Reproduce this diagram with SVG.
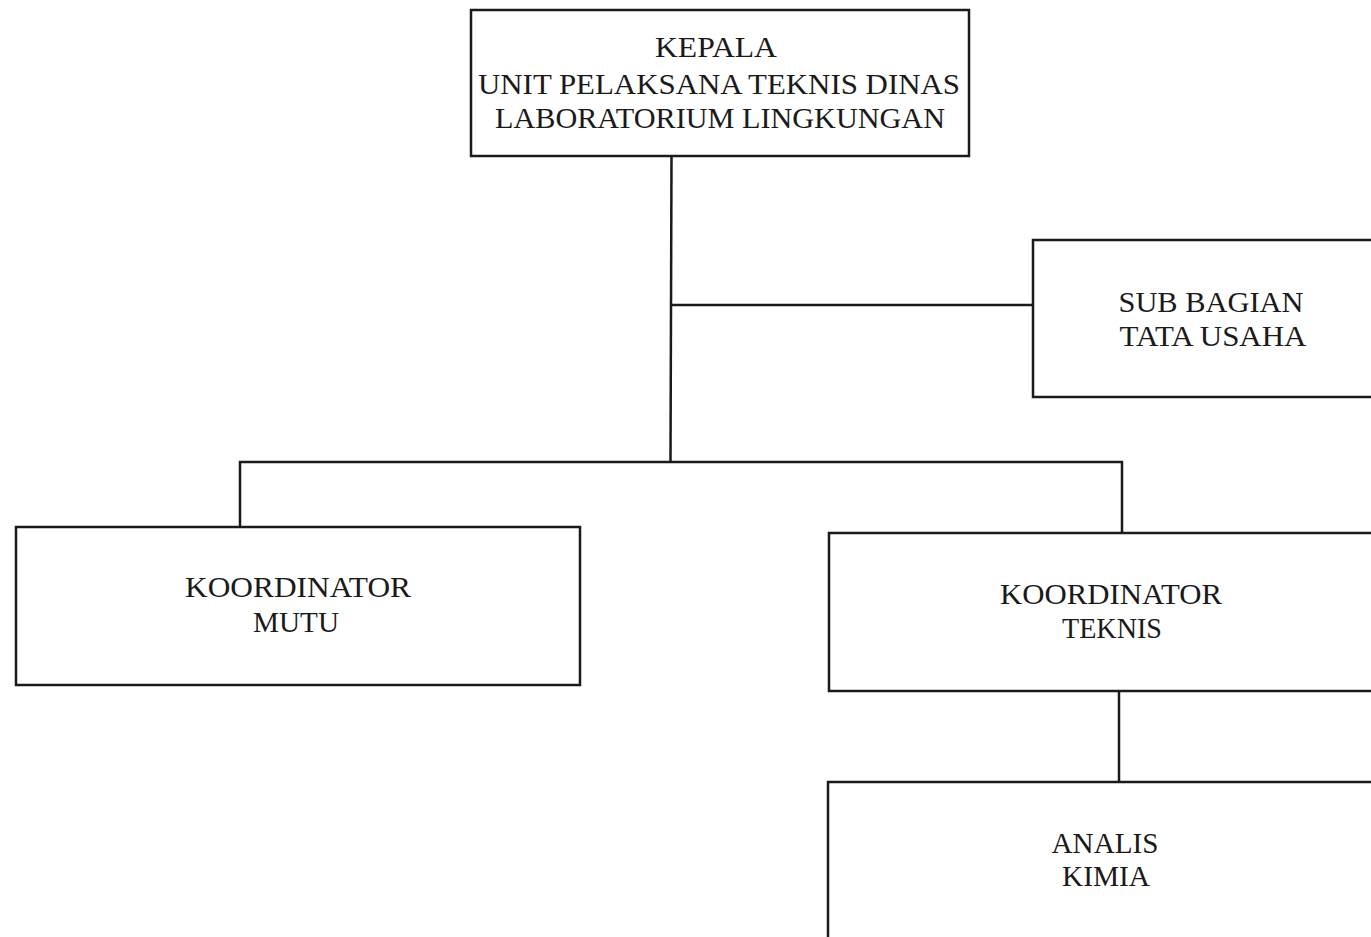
<svg xmlns="http://www.w3.org/2000/svg" width="1371" height="937" viewBox="0 0 1371 937">
<style>
.box{fill:none;stroke:#1a1a1a;stroke-width:2.5}
.ln{fill:none;stroke:#1a1a1a;stroke-width:2.5}
.t{font-family:"Liberation Serif","Times New Roman",serif;font-size:29px;fill:#1a1a1a;text-anchor:middle}
</style>
<rect width="1371" height="937" fill="#ffffff"/>
<g id="connectors">
<line class="ln" x1="671.5" y1="156" x2="670.5" y2="462"/>
<line class="ln" x1="671" y1="305" x2="1033" y2="305"/>
<polyline class="ln" points="240,527 240,462 1122,462 1122,533"/>
<line class="ln" x1="1119" y1="691" x2="1119" y2="782"/>
</g>
<g id="kepala">
<rect class="box" x="471" y="10" width="498" height="146"/>
<text class="t" x="716" y="57" textLength="122" lengthAdjust="spacingAndGlyphs">KEPALA</text>
<text class="t" x="719" y="94" textLength="482" lengthAdjust="spacingAndGlyphs">UNIT PELAKSANA TEKNIS DINAS</text>
<text class="t" x="720" y="128" textLength="450" lengthAdjust="spacingAndGlyphs">LABORATORIUM LINGKUNGAN</text>
</g>
<g id="subbagian">
<rect class="box" x="1033" y="240" width="360" height="157"/>
<text class="t" x="1211" y="312" textLength="185" lengthAdjust="spacingAndGlyphs">SUB BAGIAN</text>
<text class="t" x="1213" y="346" textLength="187" lengthAdjust="spacingAndGlyphs">TATA USAHA</text>
</g>
<g id="mutu">
<rect class="box" x="16" y="527" width="564" height="158"/>
<text class="t" x="298" y="597" textLength="226" lengthAdjust="spacingAndGlyphs">KOORDINATOR</text>
<text class="t" x="296" y="632" textLength="86" lengthAdjust="spacingAndGlyphs">MUTU</text>
</g>
<g id="teknis">
<rect class="box" x="829" y="533" width="560" height="158"/>
<text class="t" x="1111" y="604" textLength="222" lengthAdjust="spacingAndGlyphs">KOORDINATOR</text>
<text class="t" x="1112" y="638" textLength="100" lengthAdjust="spacingAndGlyphs">TEKNIS</text>
</g>
<g id="analis">
<rect class="box" x="828" y="782" width="560" height="200"/>
<text class="t" x="1105" y="853" textLength="107" lengthAdjust="spacingAndGlyphs">ANALIS</text>
<text class="t" x="1106" y="886" textLength="88" lengthAdjust="spacingAndGlyphs">KIMIA</text>
</g>
</svg>
